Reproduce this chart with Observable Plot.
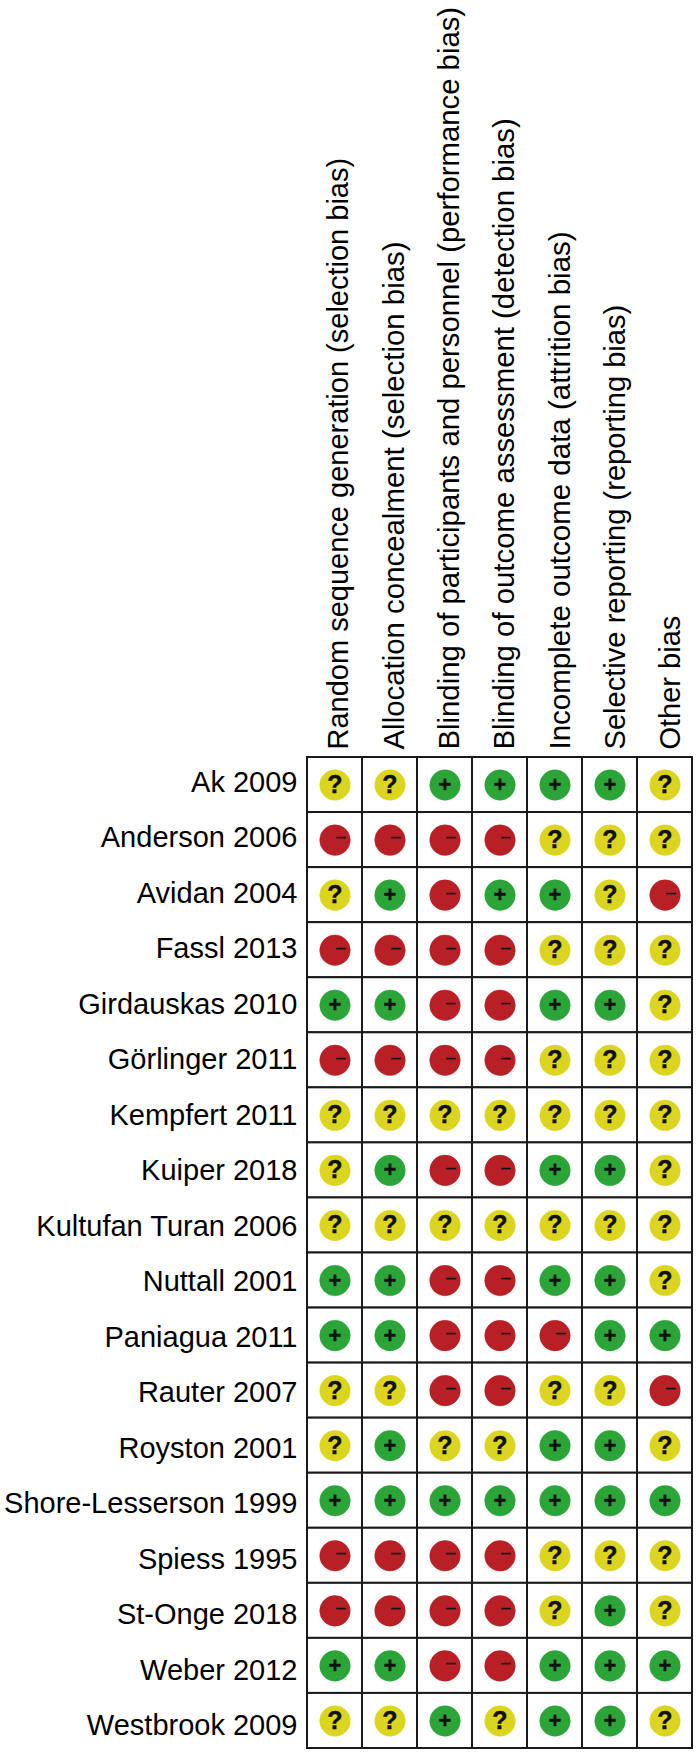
<!DOCTYPE html>
<html>
<head>
<meta charset="utf-8">
<style>html,body{margin:0;padding:0;background:#fff}svg{display:block}</style>
<script src="https://cdn.jsdelivr.net/npm/d3@7"></script>
<script src="https://cdn.jsdelivr.net/npm/@observablehq/plot@0.6"></script>
</head>
<body>
<div id="chart"></div>
<script>
const studies = ["Ak 2009","Anderson 2006","Avidan 2004","Fassl 2013","Girdauskas 2010","Görlinger 2011","Kempfert 2011","Kuiper 2018","Kultufan Turan 2006","Nuttall 2001","Paniagua 2011","Rauter 2007","Royston 2001","Shore-Lesserson 1999","Spiess 1995","St-Onge 2018","Weber 2012","Westbrook 2009"];
const domains = ["Random sequence generation (selection bias)","Allocation concealment (selection bias)","Blinding of participants and personnel (performance bias)","Blinding of outcome assessment (detection bias)","Incomplete outcome data (attrition bias)","Selective reporting (reporting bias)","Other bias"];
const ratings = ["??++++?","----???","?+-++?-","----???","++--++?","----???","???????","?+--++?","???????","++--++?","++---++","??--??-","?+??++?","+++++++","----???","----?+?","++--+++","??+?++?"];
const ratingLevels = ["+","?","-"];
const ratingColors = ["#2ba537","#dcd51f","#b82025"];

const table = studies.flatMap((study, i) => domains.map((domain, j) => ({study, domain, rating: ratings[i][j]})));
const font = "'Liberation Sans', Arial, sans-serif";
const domainFontSizes = [29, 29.4, 29.3, 29.35, 29.5, 29.1, 29];
const glyph = (r, opts) => Plot.text(table.filter(d => d.rating === r), {x: "domain", y: "study", fill: "#111", stroke: "#111", fontFamily: font, fontWeight: "bold", strokeWidth: 0.4, ...opts});

const plot = Plot.plot({
  width: 696,
  height: 1752,
  marginLeft: 307,
  marginRight: 4,
  marginTop: 757,
  marginBottom: 4,
  style: {background: "#fff", fontFamily: font, overflow: "visible"},
  x: {domain: domains, padding: 0, round: false, axis: null},
  y: {domain: studies, padding: 0, round: false, axis: null},
  color: {domain: ratingLevels, range: ratingColors},
  marks: [
    // The reference's labels are spaced slightly wider than its cells, so each label gets its own small shift.
    ...domains.map((d, j) => Plot.axisX([d], {anchor: "top", label: null, tickSize: 0, tickPadding: 8, tickRotate: -90, fontSize: domainFontSizes[j], fill: "#000", fontFamily: font, lineWidth: Infinity, dx: 4 + 0.35 * j})),
    ...studies.map((s, i) => Plot.axisY([s], {anchor: "left", label: null, tickSize: 0, tickPadding: 10, fontSize: 29, fill: "#000", fontFamily: font, dy: -2.4 + 0.44 * i})),
    Plot.cell(table, {x: "domain", y: "study", fill: "#fff", stroke: "#1a1a1a", strokeWidth: 2, inset: 0}),
    Plot.dot(table, {x: "domain", y: "study", r: 15.3, fill: "rating", stroke: "rating", strokeOpacity: 0.45, strokeWidth: 1}),
    glyph("+", {text: () => "+", fontSize: 22}),
    glyph("?", {text: () => "?", fontSize: 25}),
    glyph("-", {text: () => "−", fontSize: 19, fontWeight: "normal", strokeWidth: 0.3, dx: 5.7, dy: -1.7})
  ]
});
document.getElementById("chart").append(plot);
</script>
</body>
</html>
